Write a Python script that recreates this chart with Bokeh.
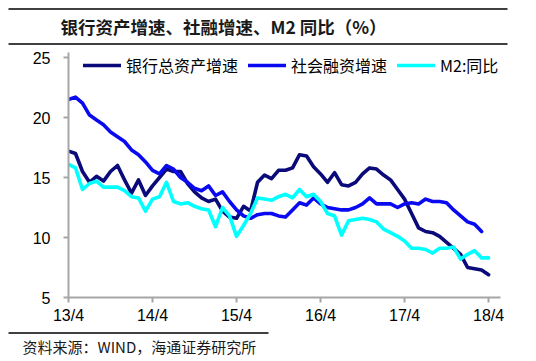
from bokeh.plotting import figure
from bokeh.layouts import column
from bokeh.models import FixedTicker, Legend, LegendItem, Range1d
from bokeh.core.properties import value
from bokeh.embed import file_html
from bokeh.resources import INLINE

tick_pos = [0, 12, 24, 36, 48, 60]
tick_labels = ["13/4", "14/4", "15/4", "16/4", "17/4", "18/4"]

bank_assets = [17.2, 17.0, 15.5, 14.6, 15.1, 14.7, 15.5, 16.0, 14.8, 13.7,
               14.8, 13.5, 14.3, 15.0, 15.7, 15.5, 15.5, 14.5, 13.8, 13.3,
               13.0, 13.2, 12.2, 11.7, 11.6, 12.6, 12.2, 14.6, 15.2, 14.9,
               15.6, 15.6, 15.8, 16.9, 16.8, 15.9, 15.3, 14.6, 15.4, 14.4,
               14.3, 14.6, 15.3, 15.8, 15.7, 15.2, 14.8, 14.0, 13.2, 12.0,
               10.8, 10.5, 10.4, 10.1, 9.6, 9.1, 8.6, 7.5, 7.4, 7.3, 6.9]
social_fin = [21.5, 21.7, 21.2, 20.2, 19.8, 19.4, 18.8, 18.4, 18.0, 17.3,
              16.9, 16.3, 15.6, 15.3, 16.0, 15.7, 15.0, 14.6, 14.1, 13.9,
              14.3, 13.5, 13.8, 13.0, 12.3, 11.8, 11.6, 11.9, 12.0, 12.0,
              11.8, 11.7, 12.3, 12.9, 12.7, 13.3, 12.8, 12.5, 12.4, 12.3,
              12.3, 12.5, 12.8, 13.3, 12.8, 12.8, 12.8, 12.5, 12.8, 12.9,
              12.8, 13.2, 13.0, 13.0, 12.9, 12.3, 11.8, 11.3, 11.1, 10.5]
m2 = [16.1, 15.8, 14.0, 14.5, 14.7, 14.2, 14.2, 14.2, 13.9, 13.4,
      13.3, 12.2, 13.2, 13.4, 14.6, 13.0, 12.8, 12.9, 12.6, 12.4,
      12.3, 10.9, 12.5, 11.8, 10.1, 11.0, 12.0, 13.3, 13.2, 13.1,
      13.4, 13.6, 13.3, 14.0, 13.4, 13.6, 13.0, 12.0, 11.8, 10.2,
      11.4, 11.5, 11.6, 11.5, 11.3, 10.7, 10.4, 10.1, 9.7, 9.1,
      9.1, 9.0, 8.7, 9.1, 9.1, 9.2, 8.2, 8.6, 8.9, 8.3, 8.3]

series_names = ["银行总资产增速", "社会融资增速", "M2:同比"]
series_colors = ["#0A0A7A", "#0A0AF0", "#00FFFF"]
title_text = "银行资产增速、社融增速、M2 同比（%）"
source_text = "资料来源：WIND，海通证券研究所"

W = 536
CJK = value("Noto Sans CJK SC")


def blank(height):
    f = figure(width=W, height=height, x_range=Range1d(0, W),
               y_range=Range1d(height, 0), x_axis_type=None, y_axis_type=None,
               output_backend="svg", toolbar_location=None, min_border=0,
               frame_align=False)
    f.outline_line_color = None
    f.grid.visible = False
    return f


# header
hdr = blank(50)
hdr.segment(x0=[8, 8], y0=[8.5, 43.5], x1=[507, 507], y1=[8.5, 43.5],
            line_color="black", line_width=1.3)
hdr.text(x=[60], y=[26], text=[title_text], text_font=CJK,
         text_font_size="17.5px", text_font_style="bold",
         text_baseline="middle", text_color="#1a1a1a")

# main chart
top_pad = 5.0 / 12.0
p = figure(width=W, height=278, output_backend="svg", toolbar_location=None,
           x_range=Range1d(0, 61.7), y_range=Range1d(5, 25 + top_pad),
           min_border_left=68, min_border_right=36, min_border_top=2,
           min_border_bottom=31, frame_align=False)
p.outline_line_color = None
p.xgrid.visible = False
p.ygrid.visible = False

for ax in (p.xaxis[0], p.yaxis[0]):
    ax.axis_line_color = "#A6A6A6"
    ax.axis_line_width = 2
    ax.major_tick_line_color = "#A6A6A6"
    ax.major_tick_line_width = 2
    ax.major_tick_in = 0
    ax.major_tick_out = 5
    ax.minor_tick_line_color = None
    ax.major_label_text_font = "Liberation Sans"
    ax.major_label_text_font_size = "16px"
    ax.major_label_text_color = "black"

p.xaxis.ticker = FixedTicker(ticks=tick_pos)
p.xaxis.major_label_overrides = {t: l for t, l in zip(tick_pos, tick_labels)}
p.xaxis.major_label_standoff = 4
p.yaxis.ticker = FixedTicker(ticks=[5, 10, 15, 20, 25])
p.yaxis.major_label_standoff = 13

items = []
for name, vals, col in zip(series_names, [bank_assets, social_fin, m2], series_colors):
    r = p.line(list(range(len(vals))), vals, line_color=col, line_width=3.6,
               line_join="round", line_cap="round")
    items.append(LegendItem(label=name, renderers=[r]))

legend = Legend(items=items, orientation="horizontal", location=(15, 220),
                glyph_width=38, glyph_height=18, label_height=18,
                label_standoff=5, spacing=10, padding=0, margin=0,
                border_line_color=None, background_fill_alpha=0,
                label_text_font="Noto Sans CJK SC", label_text_font_size="16px",
                label_text_color="black")
p.add_layout(legend)

# footer
ftr = blank(33)
ftr.segment(x0=[8], y0=[4.5], x1=[268], y1=[4.5], line_color="black",
            line_width=1.3)
ftr.text(x=[22], y=[17.5], text=[source_text], text_font=CJK,
         text_font_size="15px", text_baseline="middle", text_color="#1a1a1a")

layout = column(hdr, p, ftr, spacing=0)
open("out.html", "w").write(file_html(layout, INLINE))
